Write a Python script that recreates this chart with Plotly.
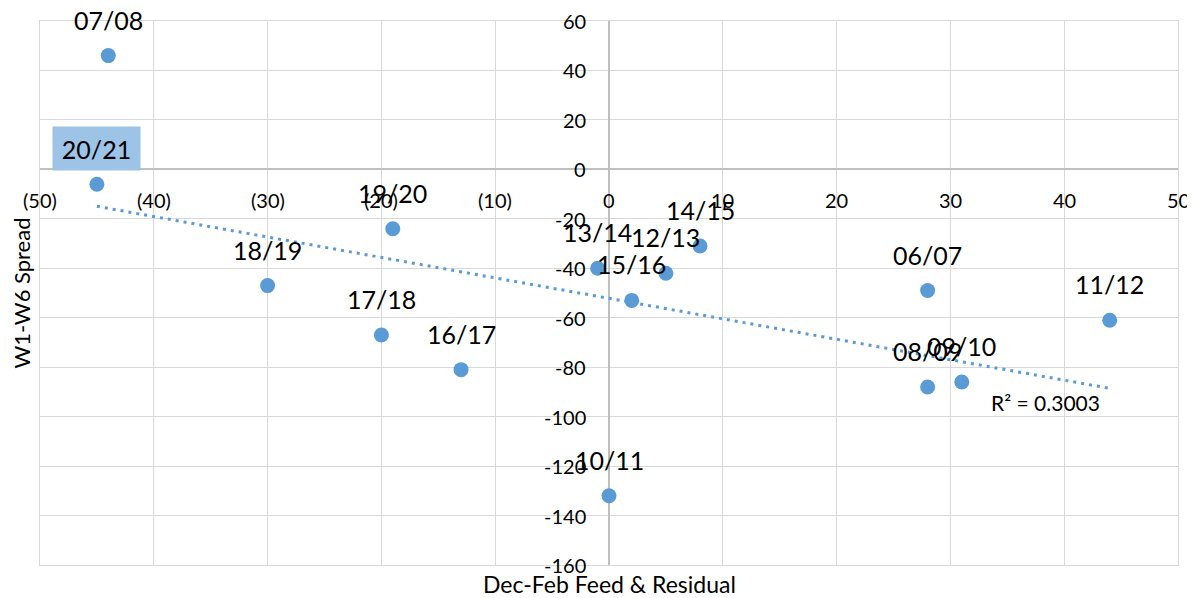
import numpy as np
import plotly.graph_objects as go

seasons = ["07/08", "20/21", "18/19", "19/20", "17/18", "16/17", "13/14", "15/16",
           "12/13", "14/15", "10/11", "06/07", "08/09", "09/10", "11/12"]
feed_residual = [-44, -45, -30, -19, -20, -13, -1, 2, 5, 8, 0, 28, 28, 31, 44]
w1_w6_spread = [46, -6, -47, -24, -67, -81, -40, -53, -42, -31, -132, -49, -88, -86, -61]

x_ticks = list(range(-50, 51, 10))
y_ticks = list(range(-160, 61, 20))
r2_label = "R² = 0.3003"
highlight = "20/21"

FONT = "Lato"
BLUE = "#5B9BD5"

x = np.array(feed_residual, dtype=float)
y = np.array(w1_w6_spread, dtype=float)
slope, intercept = np.polyfit(x, y, 1)
tx = np.array([x.min(), x.max()])
ty = slope * tx + intercept

fig = go.Figure()
fig.add_trace(go.Scatter(x=tx, y=ty, mode="lines",
                         line=dict(color=BLUE, width=3, dash="3px,5px"),
                         hoverinfo="skip", showlegend=False))
fig.add_trace(go.Scatter(x=feed_residual, y=w1_w6_spread, mode="markers",
                         marker=dict(color=BLUE, size=15),
                         showlegend=False))

ann = []
for s, xv, yv in zip(seasons, feed_residual, w1_w6_spread):
    a = dict(x=xv, y=yv, text=s, showarrow=False, yshift=36,
             font=dict(family=FONT, size=25, color="#000000"))
    if s == highlight:
        a.update(bgcolor="#9DC3E6", width=85, height=41, borderpad=1)
    ann.append(a)

def fmt(v):
    return f"({abs(v)})" if v < 0 else str(v)

for v in x_ticks:
    ann.append(dict(x=v, y=0, text=fmt(v), showarrow=False, yshift=-31,
                    font=dict(family=FONT, size=20, color="#000000")))
for v in y_ticks:
    ann.append(dict(x=0, y=v, text=str(v), showarrow=False, xanchor="right",
                    xshift=-21, font=dict(family=FONT, size=20, color="#000000")))

ann.append(dict(x=x.max(), y=slope * x.max() + intercept, text=r2_label,
                showarrow=False, xanchor="right", yshift=-14, xshift=-8,
                font=dict(family=FONT, size=21, color="#000000")))
ann.append(dict(xref="paper", yref="paper", x=0.5, y=0, text="Dec-Feb Feed & Residual",
                showarrow=False, yanchor="top", yshift=-3,
                font=dict(family=FONT, size=23, color="#000000")))
ann.append(dict(xref="paper", yref="paper", x=0, y=0.5, text="W1-W6 Spread",
                textangle=-90, showarrow=False, xanchor="right", xshift=-4,
                font=dict(family=FONT, size=22, color="#000000")))

# page body has an 8px margin: figure spans page pixels 8..1195 x 8..598
fig.update_layout(
    width=1187, height=590,
    margin=dict(l=32, r=17, t=13, b=33),
    paper_bgcolor="white", plot_bgcolor="white",
    annotations=ann,
    xaxis=dict(range=[-50, 50], tickvals=x_ticks, showticklabels=False,
               showgrid=True, gridcolor="#d9d9d9", gridwidth=1.3,
               zeroline=True, zerolinecolor="#bfbfbf", zerolinewidth=1.5,
               showline=True, mirror=True, linecolor="#d9d9d9", linewidth=1.3,
               ticks=""),
    yaxis=dict(range=[-160, 60], tickvals=y_ticks, showticklabels=False,
               showgrid=True, gridcolor="#d9d9d9", gridwidth=1.3,
               zeroline=True, zerolinecolor="#bfbfbf", zerolinewidth=1.5,
               showline=True, mirror=True, linecolor="#d9d9d9", linewidth=1.3,
               ticks=""),
)

fig.write_html("out.html")
